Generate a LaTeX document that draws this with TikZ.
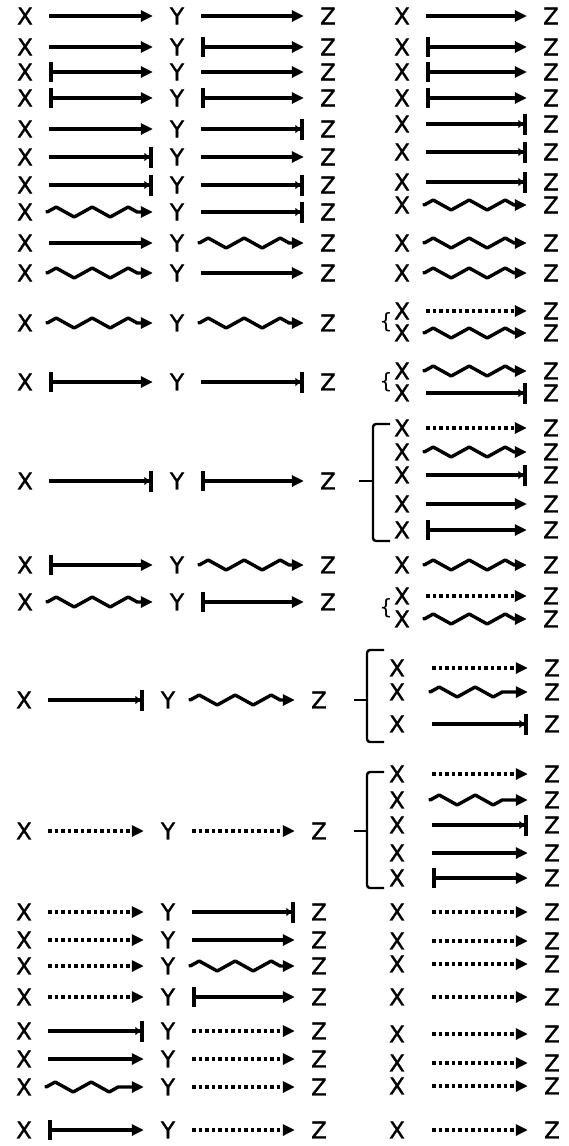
\documentclass[tikz,border=0pt]{standalone}
\usepackage{fontspec}
\setmainfont{DejaVu Sans}
\newfontfamily\labfont{DejaVu Sans}[FakeBold=1.2]
\usetikzlibrary{arrows.meta,decorations.pathmorphing}

\begin{document}
\begin{tikzpicture}[x=1pt, y=-1pt,
  lab/.style={inner sep=0pt, minimum width=44pt, font=\labfont\fontsize{23}{23}\selectfont},
  labw/.style={lab, minimum width=66pt},
  lnk/.style={line width=3.4pt, shorten <=2pt, shorten >=2pt, line join=round},
  act/.style={lnk, -{Triangle[length=12pt,width=11pt]}},
  bact/.style={lnk, {Bar[width=20pt]}-{Triangle[length=12pt,width=11pt]}},
  inh/.style={lnk, -{Triangle[length=5pt,width=8pt]Bar[width=21pt]}},
  wav/.style={lnk, -{Triangle[length=12pt,width=11pt]},
    decoration={zigzag, segment length=36pt, amplitude=5pt, post length=12pt}, decorate},
  dotarr/.style={lnk, dash pattern=on 3.5pt off 3pt, -{Triangle[length=12pt,width=11pt]}},
  brk/.style={line width=2.4pt, rounded corners=3pt},
  brace/.style={inner sep=0pt, font=\fontsize{21}{21}\selectfont}]
\useasboundingbox (0,0) rectangle (568,1146);

% left chains, upper block
\foreach \n/\y/\a/\b in {1/16/act/act, 2/47/act/bact, 3/72/bact/act, 4/98/bact/bact,
    5/129/act/inh, 6/157/inh/act, 7/185/inh/inh, 8/212/wav/inh, 9/243/act/wav,
    10/273/wav/act, 11/323/wav/wav, 12/382/bact/inh, 13/481/inh/bact,
    14/565/bact/wav, 15/602/wav/bact}{
  \node[lab] (x\n) at (25,\y) {X};
  \node[lab] (y\n) at (177,\y) {Y};
  \node[lab] (z\n) at (328,\y) {Z};
  \draw[\a] (x\n) -- (y\n);
  \draw[\b] (y\n) -- (z\n);
}

% left chains, lower block
\foreach \n/\y/\a/\b in {16/700/inh/wav, 17/831/dotarr/dotarr, 18/912/dotarr/inh,
    19/940/dotarr/act, 20/966/dotarr/wav, 21/997/dotarr/bact, 22/1031/inh/dotarr,
    23/1059/act/dotarr, 24/1087/wav/dotarr, 25/1130/bact/dotarr}{
  \node[lab] (x\n) at (24,\y) {X};
  \node[lab] (y\n) at (168,\y) {Y};
  \node[lab] (z\n) at (319,\y) {Z};
  \draw[\a] (x\n) -- (y\n);
  \draw[\b] (y\n) -- (z\n);
}

% right column, upper block
\foreach \n/\y/\t in {1/16/act, 2/47/bact, 3/72/bact, 4/98/bact, 5/124/inh,
    6/152/inh, 7/182/inh, 8/205/wav, 9/243/wav, 10/273/wav, 11a/311/dotarr,
    11b/333/wav, 12a/371/wav, 12b/393/inh, 13a/428/dotarr, 13b/452/wav,
    13c/475/inh, 13d/504/act, 13e/530/bact, 14/565/wav, 15a/596/dotarr,
    15b/619/wav}{
  \node[lab] (rx\n) at (402,\y) {X};
  \node[lab] (rz\n) at (551,\y) {Z};
  \draw[\t] (rx\n) -- (rz\n);
}

% right column, lower block
\foreach \n/\y/\t in {16a/668/dotarr, 16b/692/wav, 16c/724/inh, 17a/774/dotarr,
    17b/800/wav, 17c/825/inh, 17d/853/act, 17e/878/bact, 18/912/dotarr,
    19/941/dotarr, 20/964/dotarr, 21/997/dotarr, 22/1034/dotarr,
    23/1063/dotarr, 24/1086/dotarr, 25/1130/dotarr}{
  \node[labw] (rx\n) at (397,\y) {X};
  \node[lab] (rz\n) at (552,\y) {Z};
  \draw[\t] (rx\n) -- (rz\n);
}

% small braces
\node[brace] (br11) at (386,322) {\{};
\node[brace] (br12) at (386,382) {\{};
\node[brace] (br15) at (386,608) {\{};

% square brackets
\draw[brk] (390,424) -- (373,424) -- (373,541) -- (390,541);
\draw[brk] (373,481) -- (359,481);
\draw[brk] (384,650) -- (367,650) -- (367,742) -- (384,742);
\draw[brk] (367,700) -- (354,700);
\draw[brk] (384,772) -- (367,772) -- (367,888) -- (384,888);
\draw[brk] (367,831) -- (354,831);
\end{tikzpicture}
\end{document}
